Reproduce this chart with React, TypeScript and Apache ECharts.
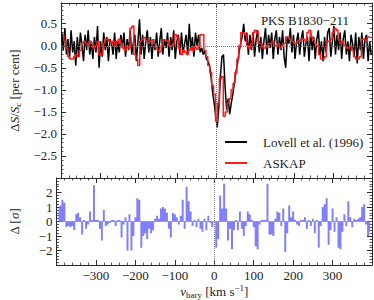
import React, { useEffect, useRef } from 'react';
import * as echarts from 'echarts';

// Lovell et al. (1996) spectrum: channel velocities start at -398 km/s, 4 km/s spacing
const LOVELL_V0 = -398;
const LOVELL_DV = 4;
const lovell = [
  0.3, -0.1, 0.4, -0.2, 0.15, -0.3, 0.35, -0.15, 0.1, -0.45,
  0.2, -0.25, 0.3, 0.0, -0.35, 0.25, -0.1, 0.35, -0.2, 0.1,
  -0.3, 0.2, -0.15, 0.45, -0.5, 0.1, -0.25, 0.3, -0.1, 0.2,
  -0.35, 0.15, 0.05, -0.2, 0.3, -0.3, 0.1, -0.15, 0.25, -0.05,
  0.3, -0.25, 0.15, -0.1, 0.35, -0.2, 0.05, 0.25, -0.35, 0.1,
  0.6, -0.2, 0.25, -0.3, 0.1, 0.35, -0.15, 0.2, -0.3, 0.15,
  -0.1, 0.3, -0.25, 0.1, 0.4, -0.2, 0.15, -0.05, 0.3, -0.25,
  0.2, -0.1, 0.35, -0.3, 0.1, 0.25, -0.2, 0.3, -0.15, 0.05,
  0.25, -0.2, 0.5, -0.1, 0.2, -0.25, 0.3, 0.0, 0.25, -0.15,
  -0.05, -0.2, -0.1, -0.3, -0.35, -0.45, -0.7, -1.05, -1.3, -1.6,
  -1.85, -1.4, -0.7, -0.25, -0.2, -0.9, -1.45, -1.2, -1.55, -1.3,
  -1.1, -0.85, -0.6, -0.4, -0.15, 0.05, 0.2, 0.5, 0.1, 0.3,
  -0.2, 0.25, -0.1, 0.3, -0.25, 0.15, 0.35, -0.15, 0.2, -0.3,
  0.1, 0.4, -0.2, 0.25, -0.05, 0.3, -0.3, 0.15, 0.35, -0.2,
  0.2, -0.1, 0.35, -0.25, -0.5, 0.2, 0.05, 0.4, -0.15, 0.25,
  -0.3, 0.1, 0.3, -0.2, 0.15, 0.35, -0.25, 0.05, 0.2, -0.35,
  0.3, -0.1, 0.2, -0.3, 0.15, 0.35, -0.2, 0.1, -0.35, 0.2,
  -0.15, 0.3, 0.4, -0.25, 0.1, 0.45, -0.2, 0.25, -0.1, 0.3,
  -0.3, 0.15, 0.35, -0.2, 0.1, -0.35, 0.25, 0.05, -0.25, 0.3,
  -0.4, 0.2, -0.1, 0.3, -0.3, 0.15, 0.25, -0.35, 0.1, -0.2,
];

// ASKAP spectrum and residuals: channel velocities start at -395 km/s, 5 km/s spacing
const ASKAP_V0 = -395;
const ASKAP_DV = 5;
const askap = [
  0.25, 0.1, -0.05, -0.25, -0.3, -0.3, -0.25, -0.2, -0.25, -0.1,
  0.05, 0.1, 0.05, 0.0, 0.1, 0.05, -0.05, 0.0, 0.1, -0.2,
  -0.2, 0.05, 0.15, 0.15, 0.1, 0.05, 0.1, 0.0, 0.1, 0.15,
  0.05, -0.05, -0.1, 0.0, -0.05, 0.4, 0.45, -0.2, -0.3, -0.45,
  0.1, 0.15, 0.18, 0.1, 0.05, 0.1, 0.13, 0.05, -0.05, -0.1,
  -0.14, 0.0, 0.13, 0.13, 0.1, 0.0, 0.0, 0.05, 0.25, 0.2,
  -0.06, -0.2, -0.1, -0.15, -0.2, -0.1, -0.05, -0.1, -0.02, -0.08,
  0.0, 0.25, 0.25, -0.1, -0.25, -0.45, -0.6, -0.9, -1.1, -1.7,
  -1.3, -0.75, -0.7, -1.6, -1.5, -1.3, -1.2, -1.0, -0.85, -0.6,
  -0.3, 0.0, 0.3, 0.3, 0.25, 0.0, -0.05, 0.05, 0.3, 0.35,
  0.3, 0.05, 0.05, -0.05, -0.05, 0.0, 0.05, 0.05, 0.1, 0.0,
  0.0, 0.05, -0.05, 0.0, 0.05, 0.2, 0.2, 0.15, 0.1, 0.05,
  0.05, 0.1, 0.1, 0.15, 0.15, 0.1, 0.3, 0.35, 0.2, 0.15,
  0.05, 0.0, -0.2, -0.3, -0.3, -0.25, 0.1, 0.1, 0.15, 0.3,
  0.4, 0.35, 0.15, 0.05, 0.1, 0.0, -0.05, -0.05, 0.0, -0.1,
  -0.25, -0.3, -0.3, -0.25, 0.15, 0.15, 0.1, 0.2, 0.2,
];
const residual = [
  0.9, 1.1, 1.5, 1.3, -0.4, -0.3, -0.4, -0.3, -0.6, 0.5,
  0.6, 0.3, -0.9, 0.1, -0.5, -0.2, 0.7, 0.1, 2.5, 0.1,
  0.1, -0.5, -1.3, 0.8, -0.3, -0.2, -0.1, 0.1, 0.1, -0.3,
  0.1, 0.1, -1.1, -0.2, 0.3, -2.0, 0.5, -2.0, -1.0, 0.3,
  1.6, 1.5, -1.8, -1.0, -0.8, -1.2, -0.5, -0.8, -0.6, 0.2,
  0.4, 0.2, 0.9, 1.0, 0.9, 0.6, -0.5, -1.1, 0.6, 0.5,
  0.3, -0.2, 0.4, 1.5, -0.5, 2.4, 1.4, 0.7, -0.3, 0.1,
  -0.4, 0.2, -0.5, -0.7, 0.2, -0.6, 0.4, -0.1, -0.4, 0.0,
  -1.8, -1.2, 1.8, 0.9, 2.6, 0.9, -1.3, -0.5, -1.9, -0.6,
  0.1, -0.6, 0.7, -0.5, -1.0, -0.3, 0.7, 0.5, 0.1, -0.4,
  -1.7, -1.9, -0.2, 0.1, 0.1, 0.1, 2.6, -0.9, -0.9, -1.0,
  0.2, 0.7, 0.6, -0.3, 0.9, -2.1, -0.8, 1.1, 0.3, 0.7,
  0.1, -0.2, -0.3, 0.1, 0.1, 0.3, -0.5, 0.1, -0.3, 0.2,
  -0.8, 0.1, -1.8, -0.3, 1.0, 1.2, 1.6, -1.6, -0.6, 0.9,
  -0.7, 0.3, -1.8, -1.9, -0.7, 0.5, -0.3, 1.4, 0.3, -0.4,
  0.2, 0.1, 0.2, 0.3, 1.0, 1.2, -0.2, -1.0, -0.7,
];

const FONT = 'Liberation Serif';
const INK = '#222';
const FRAME = '#2a2a2a';

const minus = (s: string) => s.replace('-', '\u2212');

function xAxisDef(gridIndex: number, position: string, showLabel: boolean, extra: any = {}) {
  return {
    type: 'value',
    gridIndex,
    position,
    min: -400,
    max: 400,
    interval: 100,
    axisLine: { show: true, onZero: false, lineStyle: { color: FRAME, width: 1 } },
    axisTick: { show: true, inside: true, length: 5, lineStyle: { color: FRAME, width: 1 } },
    minorTick: { show: true, splitNumber: 5, length: 2.5, lineStyle: { color: FRAME, width: 0.8 } },
    splitLine: { show: false },
    axisLabel: {
      show: showLabel,
      showMinLabel: false,
      showMaxLabel: false,
      margin: 4,
      fontFamily: FONT,
      fontSize: 13,
      color: INK,
      formatter: (v: number) => minus(String(v)),
    },
    ...extra,
  };
}

function yAxisDef(gridIndex: number, position: string, showLabel: boolean, min: number, max: number, interval: number, digits: number, extra: any = {}) {
  return {
    type: 'value',
    gridIndex,
    position,
    min,
    max,
    interval,
    axisLine: { show: true, onZero: false, lineStyle: { color: FRAME, width: 1 } },
    axisTick: { show: true, inside: true, length: 5, lineStyle: { color: FRAME, width: 1 } },
    minorTick: { show: true, splitNumber: 5, length: 2.5, lineStyle: { color: FRAME, width: 0.8 } },
    splitLine: { show: false },
    axisLabel: {
      show: showLabel,
      showMinLabel: false,
      showMaxLabel: false,
      margin: 4,
      fontFamily: FONT,
      fontSize: 13,
      color: INK,
      formatter: (v: number) => minus(v.toFixed(digits)),
    },
    ...extra,
  };
}

const richBase = {
  n: { fontFamily: FONT, fontSize: 13, color: INK, lineHeight: 16, verticalAlign: 'middle' },
  i: { fontFamily: FONT, fontSize: 13, color: INK, lineHeight: 16, fontStyle: 'italic', verticalAlign: 'middle' },
  s: { fontFamily: FONT, fontSize: 9, color: INK, lineHeight: 9, verticalAlign: 'bottom' },
  p: { fontFamily: FONT, fontSize: 9, color: INK, lineHeight: 9, verticalAlign: 'top' },
};

export default function App() {
  const ref = useRef<HTMLDivElement>(null);
  useEffect(() => {
    if (!ref.current) return;
    const chart = echarts.init(ref.current, null, { renderer: 'svg' });
    const lovellData = lovell.map((y, i) => [LOVELL_V0 + LOVELL_DV * i, y]);
    const askapData = askap.map((y, i) => [ASKAP_V0 + ASKAP_DV * i, y]);
    const residData = residual.map((y, i) => [ASKAP_V0 + ASKAP_DV * i, y]);
    const dotted = { type: 'dotted', color: '#777', width: 1 };
    const option: any = {
      animation: false,
      backgroundColor: '#fff',
      title: {
        text: 'PKS B1830\u2212211',
        right: 20,
        top: 9,
        textStyle: { fontFamily: FONT, fontSize: 13, fontWeight: 'normal', color: INK },
      },
      legend: {
        data: ['Lovell et al. (1996)', 'ASKAP'],
        orient: 'vertical',
        left: 220,
        top: 129,
        icon: 'rect',
        itemWidth: 22,
        itemHeight: 2,
        itemGap: 5,
        textStyle: { fontFamily: FONT, fontSize: 13, color: INK, lineHeight: 16, padding: [0, 0, 0, 11] },
      },
      grid: [
        { left: 51, right: 2, top: 3, height: 175 },
        { left: 51, right: 2, top: 178, height: 89 },
      ],
      xAxis: [
        xAxisDef(0, 'bottom', false),
        xAxisDef(0, 'top', false),
        xAxisDef(1, 'bottom', true, {
          name: '{i|v}{s|bary}{n| [km s}{p|\u22121}{n|]}',
          nameLocation: 'middle',
          nameGap: 16,
          nameTextStyle: { rich: richBase },
        }),
        xAxisDef(1, 'top', false),
      ],
      yAxis: [
        yAxisDef(0, 'left', true, -3, 0.97, 0.5, 1, {
          name: '{n|\u0394}{i|S}{n|/}{i|S}{s|c}{n| [per cent]}',
          nameLocation: 'middle',
          nameGap: 34,
          nameTextStyle: { rich: richBase },
        }),
        yAxisDef(0, 'right', false, -3, 0.97, 0.5, 1),
        yAxisDef(1, 'left', true, -3, 3, 1, 0, {
          name: '{n|\u0394 [}{i|\u03c3}{n|]}',
          nameLocation: 'middle',
          nameGap: 34,
          nameTextStyle: { rich: richBase },
        }),
        yAxisDef(1, 'right', false, -3, 3, 1, 0),
      ],
      series: [
        {
          type: 'line',
          xAxisIndex: 0,
          yAxisIndex: 0,
          data: [],
          z: 1,
          silent: true,
          markLine: {
            silent: true,
            symbol: 'none',
            label: { show: false },
            lineStyle: dotted,
            data: [{ xAxis: 0 }, { yAxis: 0 }],
          },
        },
        {
          name: 'Lovell et al. (1996)',
          type: 'line',
          xAxisIndex: 0,
          yAxisIndex: 0,
          data: lovellData,
          showSymbol: false,
          symbol: 'none',
          color: '#000000',
          lineStyle: { color: '#000000', width: 1.5 },
          z: 2,
        },
        {
          name: 'ASKAP',
          type: 'line',
          xAxisIndex: 0,
          yAxisIndex: 0,
          data: askapData,
          step: 'middle',
          showSymbol: false,
          symbol: 'none',
          color: '#ff1a1a',
          lineStyle: { color: '#ff1a1a', width: 1.5 },
          z: 3,
        },
        {
          name: 'residual',
          type: 'line',
          xAxisIndex: 2,
          yAxisIndex: 2,
          data: residData,
          step: 'middle',
          showSymbol: false,
          symbol: 'none',
          color: '#8080ff',
          lineStyle: { width: 0 },
          areaStyle: { color: '#8080ff', opacity: 1 },
          z: 2,
          markLine: {
            silent: true,
            symbol: 'none',
            label: { show: false },
            lineStyle: dotted,
            data: [{ xAxis: 0 }, { yAxis: 0 }],
          },
        },
      ],
    };
    chart.setOption(option);
    return () => chart.dispose();
  }, []);
  return (
    <div
      ref={ref}
      style={{ position: 'absolute', left: 0, top: 0, width: 374, height: 300 }}
    />
  );
}
